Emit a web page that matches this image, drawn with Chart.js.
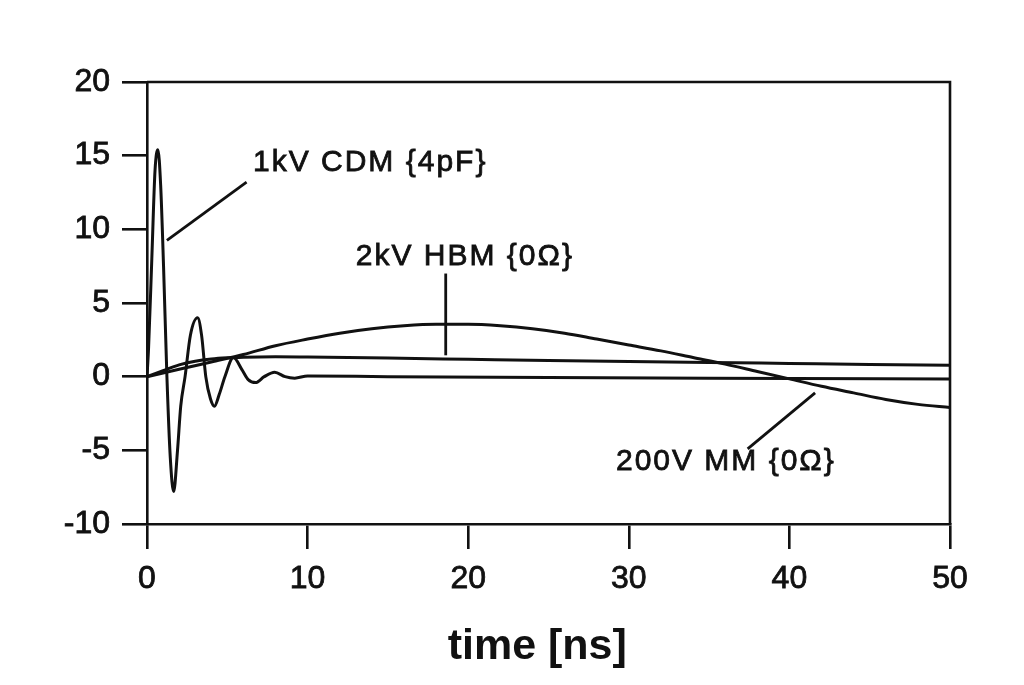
<!DOCTYPE html>
<html>
<head>
<meta charset="utf-8">
<script src="https://cdn.jsdelivr.net/npm/chart.js@4/dist/chart.umd.min.js"></script>
<style>
  html, body { margin: 0; padding: 0; background: #fff; }
  #wrap { width: 1024px; height: 685px; }
</style>
</head>
<body>
<div id="wrap"><canvas id="g_esd"></canvas></div>
<script>
// 1kV CDM {4pF}
var cdmT = [0, 0.1, 0.3, 0.5, 0.68, 0.85, 1.03, 1.24, 1.45, 1.66, 1.9, 2.1, 2.37, 2.7, 3.15, 3.4, 3.66, 3.95, 4.2, 4.5, 4.85, 5.38, 5.9, 6.3, 6.77, 7.3, 7.95, 8.6, 9.2, 10, 15, 25, 35, 50];
var cdmI = [0, 2, 8, 14, 15.4, 13, 7.5, 0, -5.5, -7.8, -5, -2, 0, 2.8, 4.0, 2.8, 0, -1.5, -2.0, -1.2, 0, 1.3, 0.5, -0.2, -0.4, 0, 0.3, 0, -0.1, 0.05, 0, -0.05, -0.1, -0.15];

// 2kV HBM {0Ω}
var hbmT = [0, 1, 2, 3, 4, 5, 6, 8, 10, 15, 20, 25, 30, 35, 40, 45, 50];
var hbmI = [0, 0.4, 0.8, 1.05, 1.2, 1.28, 1.32, 1.35, 1.33, 1.26, 1.18, 1.1, 1.03, 0.97, 0.9, 0.83, 0.77];

// 200V MM {0Ω}
var mmT = [0, 2, 4, 6, 8, 10, 12, 14, 16, 18, 20, 22, 24, 26, 28, 30, 32, 34, 36, 38, 40, 42, 44, 46, 48, 50];
var mmI = [0, 0.5, 1.0, 1.5, 2.1, 2.55, 2.95, 3.25, 3.45, 3.55, 3.55, 3.45, 3.25, 2.95, 2.55, 2.15, 1.75, 1.3, 0.85, 0.35, -0.15, -0.65, -1.1, -1.55, -1.88, -2.1];

var xTicks = [0, 10, 20, 30, 40, 50];
var yTicks = [-10, -5, 0, 5, 10, 15, 20];
var xTitulo = 'time [ns]';

function puntos(t, v){
    var out = [];
    for (let i = 0; i < t.length; i++) {
        out.push({x: t[i], y: v[i]});
    }
    return out;
}

// labels + leader lines, placed in data units
var notas = [
    {text: '1kV CDM {4pF}', x: 6.6, y: 14.5, from: [1.24, 9.25], to: [6.2, 13.2]},
    {text: '2kV HBM {0\u03A9}', x: 13.0, y: 8.15, from: [18.6, 7.0], to: [18.6, 1.45]},
    {text: '200V MM {0\u03A9}', x: 29.2, y: -5.8, from: [41.6, -1.1], to: [37.4, -4.9]}
];

var fuente = '"Liberation Sans", Arial, sans-serif';

var marco = {
    id: 'marco',
    afterDatasetsDraw: function(chart){
        var ctx = chart.ctx;
        var a = chart.chartArea;
        var sx = chart.scales.x, sy = chart.scales.y;
        ctx.save();
        ctx.strokeStyle = '#111';
        ctx.lineWidth = 2.6;
        ctx.beginPath();
        ctx.moveTo(a.left, a.top);
        ctx.lineTo(a.right, a.top);
        ctx.lineTo(a.right, a.bottom);
        ctx.stroke();

        ctx.fillStyle = '#111';
        ctx.font = '30px ' + fuente;
        ctx.letterSpacing = '2px';
        ctx.textBaseline = 'middle';
        ctx.textAlign = 'left';
        notas.forEach(function(n){
            var px = sx.getPixelForValue(n.x), py = sy.getPixelForValue(n.y);
            ctx.lineWidth = 0.8;
            ctx.fillText(n.text, px, py);
            ctx.strokeText(n.text, px, py);
            ctx.lineWidth = 2.8;
            ctx.beginPath();
            ctx.moveTo(sx.getPixelForValue(n.from[0]), sy.getPixelForValue(n.from[1]));
            ctx.lineTo(sx.getPixelForValue(n.to[0]), sy.getPixelForValue(n.to[1]));
            ctx.stroke();
        });

        // axis title, sits a little left of the plot centre
        ctx.letterSpacing = '0px';
        ctx.font = 'bold 43px ' + fuente;
        ctx.textAlign = 'center';
        ctx.fillText(xTitulo, sx.getPixelForValue(24.3), 647);
        ctx.restore();
    }
};

var estilo = {
    borderColor: '#111',
    borderWidth: 3,
    pointRadius: 0,
    fill: false,
    cubicInterpolationMode: 'monotone'
};

var ctx = document.getElementById('g_esd');
var grafica = new Chart(ctx, {
    type: 'line',
    data: {
        datasets: [
            Object.assign({label: '1kV CDM {4pF}', data: puntos(cdmT, cdmI)}, estilo),
            Object.assign({label: '2kV HBM {0\u03A9}', data: puntos(hbmT, hbmI)}, estilo),
            Object.assign({label: '200V MM {0\u03A9}', data: puntos(mmT, mmI)}, estilo)
        ]
    },
    options: {
        responsive: true,
        maintainAspectRatio: false,
        animation: false,
        layout: { padding: { top: 82, right: 74, bottom: 13, left: 0 } },
        plugins: {
            legend: { display: false },
            tooltip: { enabled: false }
        },
        scales: {
            x: {
                type: 'linear',
                min: 0,
                max: 50,
                afterBuildTicks: function(s){ s.ticks = xTicks.map(function(v){ return {value: v}; }); },
                afterFit: function(s){ s.height = 148; },
                grid: { drawOnChartArea: false, drawTicks: true, tickLength: 25, color: '#111', lineWidth: 2.6 },
                border: { display: true, color: '#111', width: 2.6 },
                ticks: { color: '#111', padding: 11, textStrokeColor: '#111', textStrokeWidth: 0.8, font: { family: fuente, size: 32 } },
                title: { display: false, text: xTitulo }
            },
            y: {
                min: -10,
                max: 20,
                afterBuildTicks: function(s){ s.ticks = yTicks.map(function(v){ return {value: v}; }); },
                afterFit: function(s){ s.width = 147; },
                grid: { drawOnChartArea: false, drawTicks: true, tickLength: 25, color: '#111', lineWidth: 2.6 },
                border: { display: true, color: '#111', width: 2.6 },
                ticks: { color: '#111', padding: 12, textStrokeColor: '#111', textStrokeWidth: 0.8, font: { family: fuente, size: 32 } }
            }
        }
    },
    plugins: [marco]
});
</script>
</body>
</html>
